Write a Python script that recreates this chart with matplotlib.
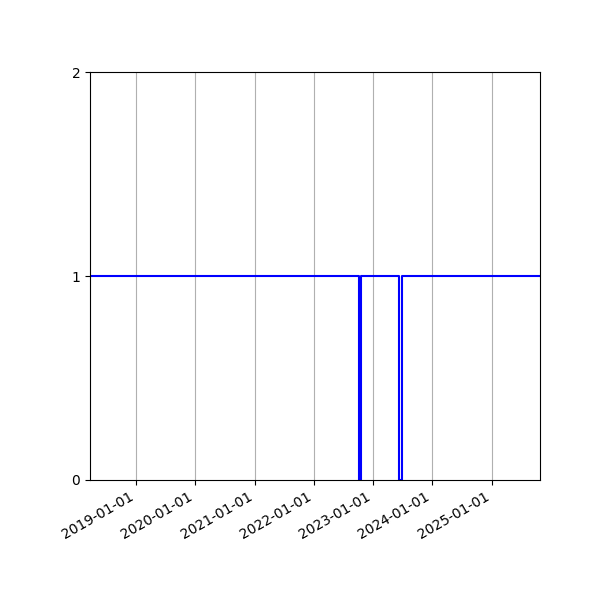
import matplotlib
matplotlib.use("Agg")
import matplotlib.pyplot as plt
import matplotlib.dates as mdates
import numpy as np
import pandas as pd

# status series (1 = up, 0 = down), step changes only
dates = ["2018-03-24", "2022-10-08", "2022-10-22", "2023-06-08", "2023-06-27", "2025-10-26"]
values = [1, 0, 1, 0, 1, 1]

dates = pd.to_datetime(dates)

fig, ax = plt.subplots(figsize=(6, 6), dpi=100)
ax.plot(dates, values, color="b", linewidth=1.5, drawstyle="steps-post")

ax.set_xlim(dates[0], dates[-1])
ax.set_ylim(0, 2)
ax.set_yticks([0, 1, 2])
ax.xaxis.set_major_locator(mdates.YearLocator())
ax.xaxis.set_major_formatter(mdates.DateFormatter("%Y-%m-%d"))
ax.grid(True, axis="x")

fig.autofmt_xdate()
fig.subplots_adjust(left=0.15, right=0.9, top=0.88, bottom=0.2)
fig.savefig("out.png")
